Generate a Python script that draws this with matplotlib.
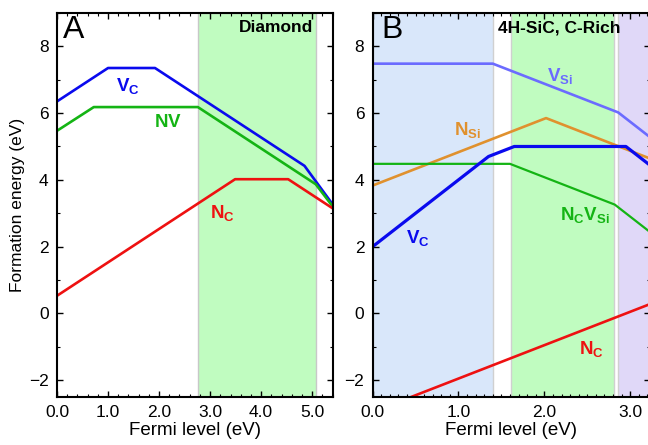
import matplotlib
matplotlib.use('Agg')
import matplotlib.pyplot as plt
from matplotlib.ticker import MultipleLocator, FormatStrFormatter

plt.rcParams['font.family'] = ['Liberation Sans', 'DejaVu Sans']
plt.rcParams['mathtext.fontset'] = 'custom'
plt.rcParams['mathtext.rm'] = 'Liberation Sans'
plt.rcParams['mathtext.bf'] = 'Liberation Sans:bold'

# panel A: diamond
a_vc_x = [0, 1.0, 1.92, 4.85, 5.41]
a_vc_y = [6.35, 7.35, 7.35, 4.42, 3.25]
a_nv_x = [0, 0.72, 2.76, 5.07, 5.41]
a_nv_y = [5.47, 6.18, 6.18, 3.87, 3.19]
a_nc_x = [0, 3.49, 4.53, 5.41]
a_nc_y = [0.53, 4.02, 4.02, 3.14]
a_band = (2.76, 5.07)

# panel B: 4H-SiC, C-rich
b_vsi_x = [0, 1.40, 2.86, 3.23]
b_vsi_y = [7.48, 7.48, 6.02, 5.28]
b_nsi_x = [0, 2.02, 3.23]
b_nsi_y = [3.83, 5.85, 4.64]
b_vc_x = [0, 1.35, 1.65, 2.95, 3.23]
b_vc_y = [2.0, 4.7, 5.0, 5.0, 4.44]
b_ncvsi_x = [0, 1.60, 2.82, 3.23]
b_ncvsi_y = [4.48, 4.48, 3.26, 2.44]
b_nc_x = [0, 3.23]
b_nc_y = [-2.95, 0.28]
b_bands = [(0, 1.40, '#d9e7fa'), (1.61, 2.81, '#c0fcc0'), (2.86, 3.23, '#e0d8f8')]

BLUE = '#0a0aee'
GREEN = '#14b414'
RED = '#ee1111'
LAV = '#6b6bff'
ORANGE = '#e0912e'

fig = plt.figure(figsize=(6.48, 4.45), dpi=100)
axA = fig.add_axes([0.088, 0.108, 0.426, 0.863])
axB = fig.add_axes([0.575, 0.108, 0.428, 0.863])


def style(ax, xmax, xminor):
    ax.set_xlim(0, xmax)
    ax.set_ylim(-2.5, 9)
    ax.xaxis.set_major_locator(MultipleLocator(1.0))
    ax.xaxis.set_minor_locator(MultipleLocator(xminor))
    ax.xaxis.set_major_formatter(FormatStrFormatter('%.1f'))
    ax.yaxis.set_major_locator(MultipleLocator(2))
    ax.yaxis.set_minor_locator(MultipleLocator(1))
    ax.tick_params(which='both', direction='in', top=True, right=True, labelsize=12.5, pad=6)
    ax.tick_params(which='major', length=4, width=1)
    ax.tick_params(which='minor', length=2, width=0.8)
    for s in ax.spines.values():
        s.set_linewidth(1.5)
    ax.set_xlabel('Fermi level (eV)', fontsize=13.5, labelpad=1)


# A
axA.axvspan(*a_band, color='#c0fcc0', ec='#c8c8c8', lw=1, zorder=0)
axA.plot(a_vc_x, a_vc_y, color=BLUE, lw=1.9)
axA.plot(a_nv_x, a_nv_y, color=GREEN, lw=1.9)
axA.plot(a_nc_x, a_nc_y, color=RED, lw=1.9)
style(axA, 5.41, 0.2)
axA.set_ylabel('Formation energy (eV)', fontsize=12.5, labelpad=3)
axA.text(0.12, 8.5, 'A', fontsize=23, va='center', ha='left')
axA.text(5.02, 8.55, 'Diamond', fontsize=12.5, fontweight='bold', ha='right', va='center')
axA.text(1.39, 6.8, r'$\mathbf{V_C}$', color=BLUE, fontsize=13.5, ha='center', va='center')
axA.text(2.18, 5.72, r'$\mathbf{NV}$', color=GREEN, fontsize=13.5, ha='center', va='center')
axA.text(3.24, 3.0, r'$\mathbf{N_C}$', color=RED, fontsize=13.5, ha='center', va='center')

# B
for x0, x1, c in b_bands:
    axB.axvspan(x0, x1, color=c, ec='#d0d0d0', lw=1, zorder=0)
axB.plot(b_vsi_x, b_vsi_y, color=LAV, lw=1.9)
axB.plot(b_nsi_x, b_nsi_y, color=ORANGE, lw=1.9)
axB.plot(b_ncvsi_x, b_ncvsi_y, color=GREEN, lw=1.6)
axB.plot(b_vc_x, b_vc_y, color=BLUE, lw=2.3)
axB.plot(b_nc_x, b_nc_y, color=RED, lw=1.9)
style(axB, 3.23, 0.1)
axB.text(0.1, 8.5, 'B', fontsize=23, va='center', ha='left')
axB.text(2.17, 8.55, '4H-SiC, C-Rich', fontsize=12.5, fontweight='bold', ha='center', va='center')
axB.text(2.18, 7.1, r'$\mathbf{V_{Si}}$', color=LAV, fontsize=13.5, ha='center', va='center')
axB.text(1.11, 5.5, r'$\mathbf{N_{Si}}$', color=ORANGE, fontsize=13.5, ha='center', va='center')
axB.text(2.47, 2.95, r'$\mathbf{N_CV_{Si}}$', color=GREEN, fontsize=13.5, ha='center', va='center')
axB.text(0.53, 2.25, r'$\mathbf{V_C}$', color=BLUE, fontsize=13.5, ha='center', va='center')
axB.text(2.55, -1.05, r'$\mathbf{N_C}$', color=RED, fontsize=13.5, ha='center', va='center')

fig.savefig('out.png', dpi=100)
